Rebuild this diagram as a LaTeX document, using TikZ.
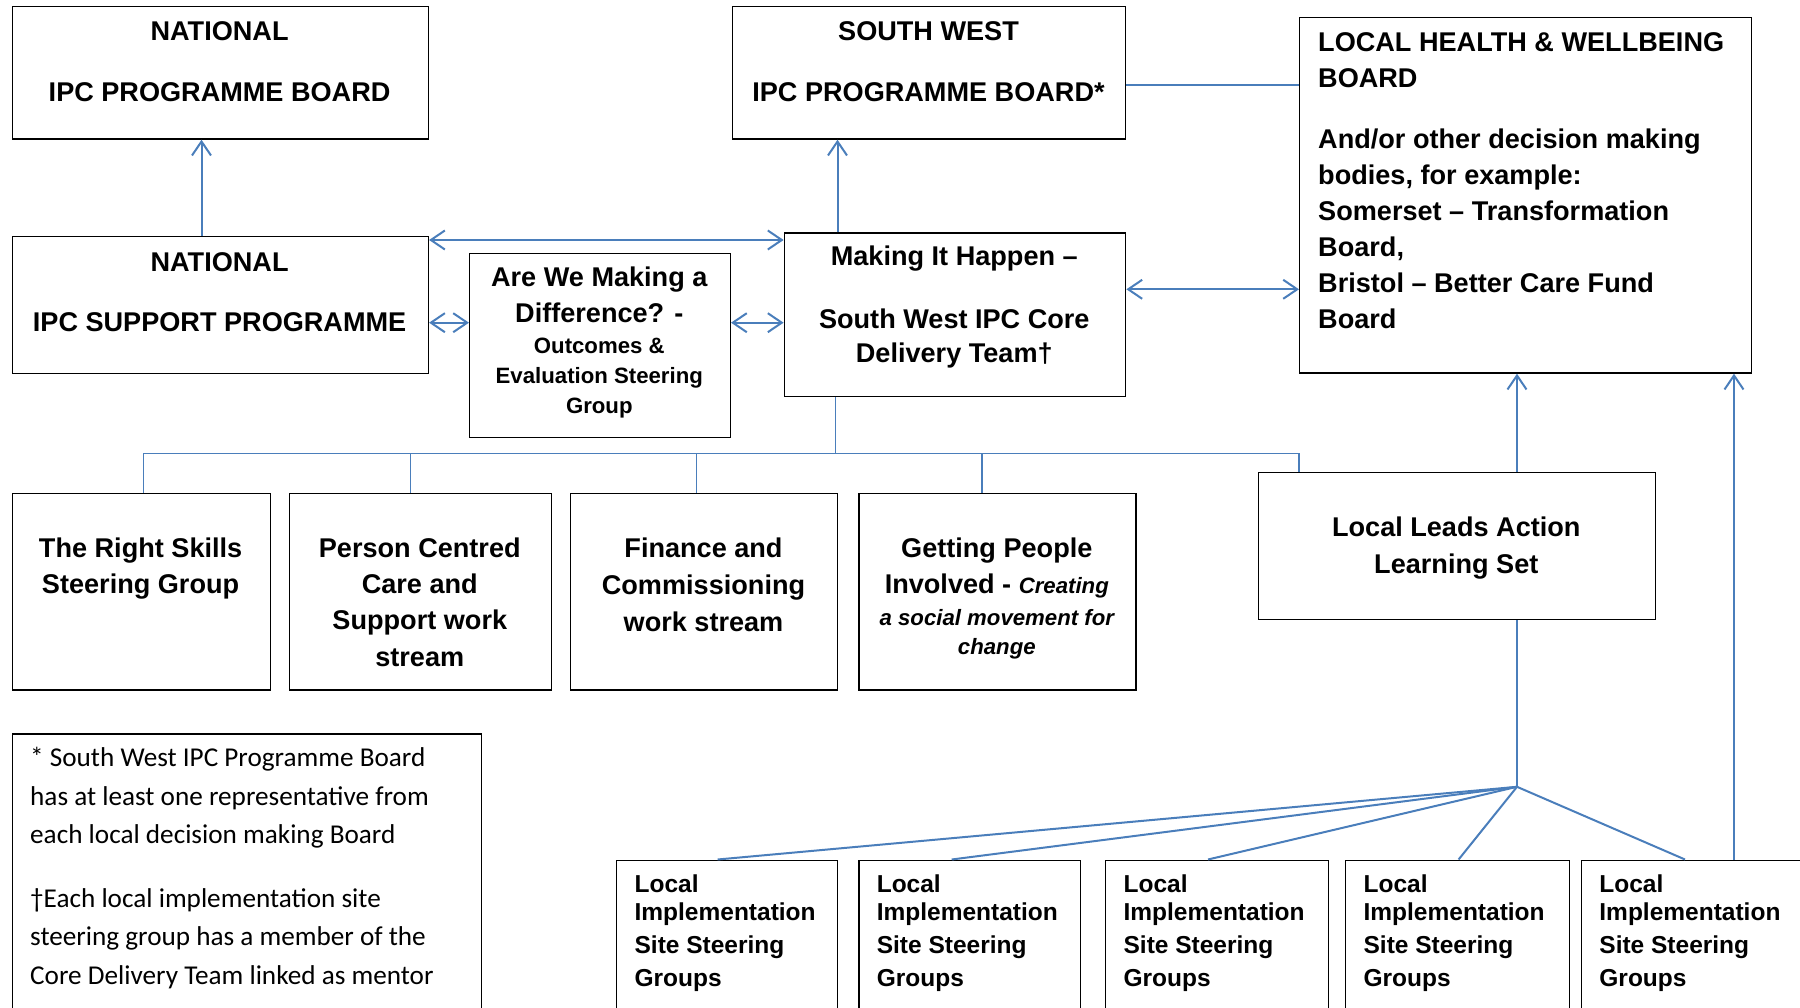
\documentclass[tikz,border=0pt]{standalone}
\usepackage{fontspec}
\setmainfont{Liberation Sans}
\newfontfamily\notefont{Carlito}
\usetikzlibrary{arrows.meta}
\definecolor{linkblue}{HTML}{4A7EBB}

% rectangle node: name, left, top, width, height (all in px = pt)
\newcommand\mkbox[5]{\node[box, minimum width=#4pt, minimum height=#5pt] (#1) at (#2,#3) {};}

\begin{document}
\begin{tikzpicture}[x=1pt, y=-1pt,
  box/.style={draw=black, line width=1.4pt, anchor=north west, inner sep=0pt, fill=white},
  % multi-line labels are placed by the baseline of their last line
  lbl/.style={font=\bfseries\fontsize{27.1}{34.6}\selectfont, align=center, anchor=base, inner sep=0pt},
  lblwide/.style={font=\bfseries\fontsize{27.1}{36.3}\selectfont, align=center, anchor=base, inner sep=0pt},
  lblsmall/.style={font=\bfseries\fontsize{22.2}{30}\selectfont, align=center, anchor=base, inner sep=0pt},
  lblleft/.style={font=\bfseries\fontsize{27.1}{35.9}\selectfont, align=left, anchor=base west, inner sep=0pt},
  sitelbl/.style={font=\bfseries\fontsize{24.5}{32.6}\selectfont, align=left, anchor=base west, inner sep=0pt},
  notelbl/.style={font=\notefont\fontsize{27.2}{38.4}\selectfont, align=left, anchor=base west, inner sep=0pt},
  link/.style={draw=linkblue, line width=2pt},
  bus/.style={draw=linkblue, line width=1.5pt},
  arr/.style={link, -{Straight Barb[length=14pt, width=19pt]}},
  darr/.style={link, {Straight Barb[length=14pt, width=19pt]}-{Straight Barb[length=14pt, width=19pt]}}
]
\useasboundingbox (0,0) rectangle (1800,1008);
\clip (0,0) rectangle (1800,1008);

% ---------- boxes ----------
\mkbox{nb}{11.5}{6}{416.2}{132.3}
\mkbox{ns}{11.5}{236}{416.2}{136.7}
\mkbox{aw}{469}{252.7}{260.6}{184}
\mkbox{sw}{732}{6}{393}{132.3}
\mkbox{mk}{783.6}{232.3}{341.4}{163.4}
\mkbox{lh}{1299}{16.7}{451.7}{355.6}
\mkbox{rs}{11.5}{492.5}{258.3}{196.8}
\mkbox{pc}{288.7}{492.5}{262.3}{196.8}
\mkbox{fc}{570}{492.5}{267}{196.8}
\mkbox{gp}{858.2}{492.5}{277.2}{196.8}
\mkbox{ll}{1257.6}{472}{397.4}{147}
\mkbox{fn}{11.5}{733.3}{469.5}{320}
\mkbox{l1}{616}{859.5}{221}{200}
\mkbox{l2}{858.2}{859.5}{221.5}{200}
\mkbox{l3}{1105}{859.5}{222.7}{200}
\mkbox{l4}{1345}{859.5}{223.8}{200}
\mkbox{l5}{1580.8}{859.5}{222}{200}

% ---------- texts ----------
\node[lbl] (nbt) at (219.6,101.7) {NATIONAL\\[26.4pt]IPC PROGRAMME BOARD};
\node[lbl] (nst) at (219.6,331.7) {NATIONAL\\[25.4pt]IPC SUPPORT PROGRAMME};
\node[lbl] (swt) at (928.5,101.7) {SOUTH WEST\\[26.4pt]IPC PROGRAMME BOARD*};
\node[lbl] (mkt) at (954.3,362.7) {Making It Happen –\\[27.7pt]South West IPC Core\\Delivery Team†};
\node[lbl] (awt) at (599.3,322.7) {Are We Making a\\[1.4pt]Difference? -};
\node[lblsmall] (aws) at (599.3,413.5) {Outcomes \&\\Evaluation Steering\\Group};
\node[lblleft] (lht) at (1318,328.3) {LOCAL HEALTH \& WELLBEING\\BOARD\\[25.3pt]And/or other decision making\\bodies, for example:\\Somerset – Transformation\\Board,\\Bristol – Better Care Fund\\Board};
\node[lblwide] (rst) at (140.6,593.5) {The Right Skills\\Steering Group};
\node[lblwide] (pct) at (419.8,666.2) {Person Centred\\Care and\\Support work\\stream};
\node[lblwide] (fct) at (703.5,631.3) {Finance and\\[0.7pt]Commissioning\\[0.7pt]work stream};
\node[lblwide] (gpt) at (996.8,593.5) {Getting People\\Involved - {\itshape\fontsize{22.2}{30}\selectfont Creating}};
\node[lblsmall, font=\bfseries\itshape\fontsize{22.2}{29}\selectfont] (gps) at (996.8,654) {a social movement for\\change};
\node[lblwide] (llt) at (1456.3,573.6) {Local Leads Action\\[1.1pt]Learning Set};
\node[sitelbl] (l1t) at (634.4,986) {Local\\[-4.3pt]Implementation\\Site Steering\\Groups};
\node[sitelbl] (l2t) at (876.6,986) {Local\\[-4.3pt]Implementation\\Site Steering\\Groups};
\node[sitelbl] (l3t) at (1123.4,986) {Local\\[-4.3pt]Implementation\\Site Steering\\Groups};
\node[sitelbl] (l4t) at (1363.4,986) {Local\\[-4.3pt]Implementation\\Site Steering\\Groups};
\node[sitelbl] (l5t) at (1599.2,986) {Local\\[-4.3pt]Implementation\\Site Steering\\Groups};
\node[notelbl] (fnt) at (30,984.3) {* South West IPC Programme Board\\has at least one representative from\\each local decision making Board\\[25.5pt]†Each local implementation site\\steering group has a member of the\\Core Delivery Team linked as mentor};

% ---------- helper positions for connectors ----------
\coordinate (xN) at (201.5,0);
\coordinate (xS) at (837.5,0);
\coordinate (xL) at (1517,0);
\coordinate (xR) at (1734,0);
\coordinate (yTop) at (0,240);
\coordinate (yMid) at (0,322.7);
\coordinate (ySW) at (0,85);
\coordinate (yLH) at (0,289.3);
\coordinate (busL) at (143.5,453.3);
\coordinate (busM) at (835.3,453.3);
\coordinate (busR) at (1299,453.3);
\coordinate (d2) at (410.4,453.3);
\coordinate (d3) at (696.3,453.3);
\coordinate (d4) at (982,453.3);
\coordinate (fan) at (1517,786.8);
\coordinate (f1) at (717.6,0);
\coordinate (f2) at (951.7,0);
\coordinate (f3) at (1208,0);
\coordinate (f4) at (1458.6,0);
\coordinate (f5) at (1685,0);

% ---------- connectors ----------
\draw[arr] (ns.north -| xN) -- (nb.south -| xN);
\draw[arr] (mk.north -| xS) -- (sw.south -| xS);
\draw[darr] (ns.east |- yTop) -- (mk.west |- yTop);
\draw[darr] (ns.east |- yMid) -- (aw.west |- yMid);
\draw[darr] (aw.east |- yMid) -- (mk.west |- yMid);
\draw[link] (sw.east |- ySW) -- (lh.west |- ySW);
\draw[darr] (mk.east |- yLH) -- (lh.west |- yLH);

% work stream bus
\draw[bus] (mk.south -| busM) -- (busM);
\draw[bus] (rs.north -| busL) -- (busL) -- (busR) -- (ll.north -| busR);
\draw[bus] (d2) -- (pc.north -| d2);
\draw[bus] (d3) -- (fc.north -| d3);
\draw[bus] (d4) -- (gp.north -| d4);

% local leads and implementation sites
\draw[arr] (ll.north -| xL) -- (lh.south -| xL);
\draw[link] (ll.south -| fan) -- (fan);
\draw[link] (fan) -- (l1.north -| f1);
\draw[link] (fan) -- (l2.north -| f2);
\draw[link] (fan) -- (l3.north -| f3);
\draw[link] (fan) -- (l4.north -| f4);
\draw[link] (fan) -- (l5.north -| f5);
\draw[arr] (l5.north -| xR) -- (lh.south -| xR);
\end{tikzpicture}
\end{document}
